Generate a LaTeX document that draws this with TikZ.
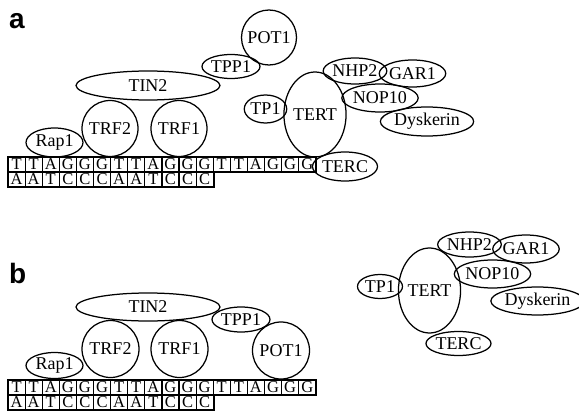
\documentclass[tikz,border=0pt]{standalone}
\usepackage{fontspec}
\setmainfont{Liberation Serif}
\newfontfamily\panelfont{Liberation Sans}
\usetikzlibrary{shapes.geometric}
\tikzset{
  prot/.style={draw, ellipse, line width=1.25pt, inner sep=0pt,
    font=\fontsize{18}{20}\selectfont},
  sz/.style 2 args={minimum width=#1pt, minimum height=#2pt},
  ball/.style={draw, circle, line width=1.25pt, inner sep=0pt,
    minimum size=#1, font=\fontsize{18}{20}\selectfont},
  cell/.style={draw, line width=1.2pt, inner sep=0pt,
    minimum width=17.1pt, minimum height=15pt,
    font=\fontsize{16.5}{17}\selectfont},
  panel/.style={font=\panelfont\bfseries\fontsize{28}{30}\selectfont, inner sep=0pt}
}
\begin{document}
\begin{tikzpicture}[x=1pt,y=-1pt]
\useasboundingbox (0,0) rectangle (579,415);

% ---------- panel a ----------
\node[panel, anchor=base west] (la) at (9,28) {a};

% telomeric DNA, two strands
\foreach \ch [count=\i from 0] in {T,T,A,G,G,G,T,T,A,G,G,G,T,T,A,G,G,G}
  \node[cell] (ta\i) at ({16.55+17.1*\i}, 164.5) {\ch};
\foreach \ch [count=\i from 0] in {A,A,T,C,C,C,A,A,T,C,C,C}
  \node[cell] (ba\i) at ({16.55+17.1*\i}, 179.5) {\ch};
\draw[line width=1.7pt] (ta0.north west) rectangle (ta17.south east);
\draw[line width=1.7pt] (ba0.north west) rectangle (ba11.south east);

\node[prot, sz={57}{29}] (rapa) at (54.5,142.5) {Rap1};
\node[ball=56pt] (trf2a) at (110,128.5) {TRF2};
\node[ball=56pt] (trf1a) at (179,128.5) {TRF1};
\node[prot, sz={144}{29}] (tin2a) at (148,85.5) {TIN2};
\node[prot, sz={58}{24}] (tpp1a) at (231,66.5) {TPP1};
\node[ball=55pt] (pot1a) at (269,37.5) {POT1};
\node[prot, sz={42}{28}] (tp1a) at (265.5,109) {TP1};
\node[prot, sz={56}{85}] (terta) at (315,114.5) {TERT};
\node[prot, sz={56}{26}] (nhp2a) at (355,71) {NHP2};
\node[prot, sz={59}{27}] (gar1a) at (412.5,73.5) {GAR1};
\node[prot, sz={72}{28}] (nop10a) at (380,98) {NOP10};
\node[prot, sz={86}{29}] (dyska) at (427,121.5) {Dyskerin};
\node[prot, sz={56}{29}] (terca) at (345,166.5) {TERC};

% ---------- panel b ----------
\node[panel, anchor=base west] (lb) at (9,283) {b};

\foreach \ch [count=\i from 0] in {T,T,A,G,G,G,T,T,A,G,G,G,T,T,A,G,G,G}
  \node[cell] (tb\i) at ({16.55+17.1*\i}, 387.5) {\ch};
\foreach \ch [count=\i from 0] in {A,A,T,C,C,C,A,A,T,C,C,C}
  \node[cell] (bb\i) at ({16.55+17.1*\i}, 402.5) {\ch};
\draw[line width=1.7pt] (tb0.north west) rectangle (tb17.south east);
\draw[line width=1.7pt] (bb0.north west) rectangle (bb11.south east);

\node[prot, sz={57}{26}] (rapb) at (54.5,365.5) {Rap1};
\node[ball=57pt] (trf2b) at (110.5,349) {TRF2};
\node[ball=57pt] (trf1b) at (179.5,349) {TRF1};
\node[prot, sz={144}{28}] (tin2b) at (148,307) {TIN2};
\node[prot, sz={58}{25}] (tpp1b) at (241,319.5) {TPP1};
\node[ball=57pt] (pot1b) at (281,350.5) {POT1};

\node[prot, sz={45}{24}] (tp1b) at (380,286.5) {TP1};
\node[prot, sz={57}{85}] (tertb) at (429.5,290.5) {TERT};
\node[prot, sz={59}{25}] (nhp2b) at (469.5,244.5) {NHP2};
\node[prot, sz={56}{28}] (gar1b) at (526,249) {GAR1};
\node[prot, sz={71}{28}] (nop10b) at (492.5,274) {NOP10};
\node[prot, sz={82}{28}] (dyskb) at (537.5,301) {Dyskerin};
\node[prot, sz={57}{24}] (tercb) at (458.5,343.5) {TERC};
\end{tikzpicture}
\end{document}
